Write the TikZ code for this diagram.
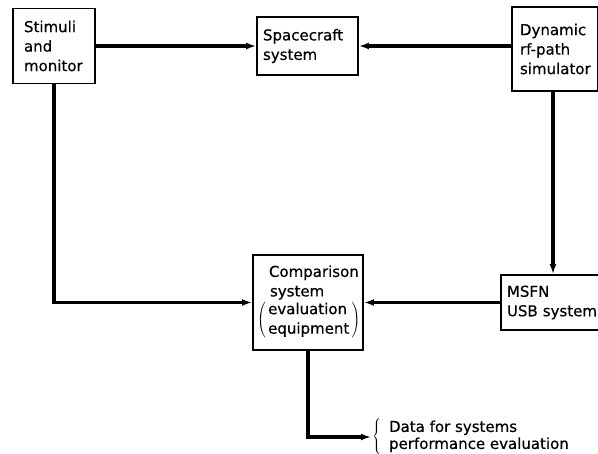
\documentclass[tikz,border=0pt]{standalone}
\usepackage{fontspec}
\setmainfont{DejaVu Sans}[FakeBold=0.5]
\usetikzlibrary{arrows.meta}

\begin{document}
\begin{tikzpicture}[x=1pt, y=-1pt,
  blk/.style={
    draw, line width=1.8pt, rectangle,
    font=\fontsize{15}{19.5}\selectfont, align=left,
    inner xsep=8pt, inner ysep=3pt
  },
  note/.style={
    font=\fontsize{15}{17}\selectfont, inner sep=1pt, anchor=west
  },
  arr/.style={-{Latex[length=10pt,width=7pt]}, line width=3.2pt},
]
\useasboundingbox (0,0) rectangle (598,454);

\node[blk, text width=60pt, minimum height=75pt, inner xsep=11pt] (stim) at (54, 46) {Stimuli\\and\\monitor};
\node[blk, text width=89pt, minimum height=58pt, inner xsep=6pt] (spc) at (307.5, 46) {Spacecraft\\system};
\node[blk, text width=70pt, minimum height=84pt] (dyn) at (555, 49) {Dynamic\\rf-path\\simulator};

\node[blk, text width=102pt, minimum height=95pt, inner xsep=4pt] (cmp) at (308, 302.5)
  {\hspace*{12pt}Comparison\\\hspace*{13pt}system\\
   $\left(\,\begin{tabular}{@{}l@{}}evaluation\\equipment\end{tabular}\,\right)$};
\node[blk, text width=92pt, minimum height=55pt, inner xsep=6pt] (msfn) at (553, 302.5) {MSFN\\USB system};

\node[note] (data) at (371, 437)
  {$\left\{\;\;\begin{tabular}{@{}l@{}}Data for systems\\performance evaluation\end{tabular}\right.$};

\draw[arr] (stim) -- (spc);
\draw[arr] (dyn.west |- spc) -- (spc);
\draw[arr] (msfn |- dyn.south) -- (msfn);
\draw[arr] (msfn) -- (cmp);
\draw[arr] (stim) |- (cmp);
\draw[arr] (cmp) |- (data);

\end{tikzpicture}
\end{document}
